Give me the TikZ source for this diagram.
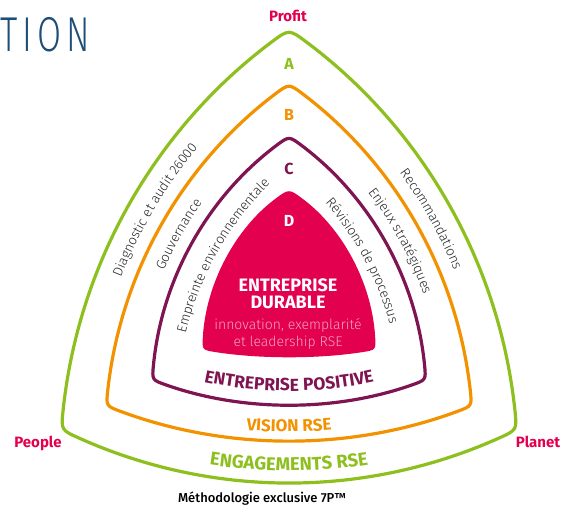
\documentclass[tikz,border=0pt]{standalone}
\usepackage{fontspec}
\setmainfont{Fira Sans}
\newfontfamily\lightfont{Fira Sans Light}
\newfontfamily\mediumfont{Fira Sans Medium}
\usetikzlibrary{calc,decorations.text}

\definecolor{rsegreen}{HTML}{8DBF1E}
\definecolor{rseorange}{HTML}{F39200}
\definecolor{rsepurple}{HTML}{7E1451}
\definecolor{rsered}{HTML}{E2004F}
\definecolor{rseblue}{HTML}{1E4D78}
\definecolor{rsegray}{HTML}{262626}
\definecolor{rsepink}{HTML}{F6A3C0}

\newcommand\sidefont{\lightfont\fontsize{13.5}{13.5}\selectfont\color{rsegray}}

% curved triangle: name, style, apex y, half width, corner y, side bulge, base bulge, top radius, corner radius
\newcommand\curvtri[9]{%
  \coordinate (#1a) at (289,#3);
  \coordinate (#1l) at ({289-#4},#5);
  \coordinate (#1r) at ({289+#4},#5);
  \coordinate (#1c1) at ($(#1a)!0.333!(#1l)!#6pt!-90:(#1l)$);
  \coordinate (#1c2) at ($(#1a)!0.667!(#1l)!#6pt!-90:(#1l)$);
  \coordinate (#1c3) at ($(#1l)!0.333!(#1r)!#7pt!-90:(#1r)$);
  \coordinate (#1c4) at ($(#1l)!0.667!(#1r)!#7pt!-90:(#1r)$);
  \coordinate (#1c5) at ($(#1r)!0.333!(#1a)!#6pt!-90:(#1a)$);
  \coordinate (#1c6) at ($(#1r)!0.667!(#1a)!#6pt!-90:(#1a)$);
  \path[#2] ($(#1a)!#8pt!(#1c1)$) .. controls (#1c1) and (#1c2) .. ($(#1l)!#9pt!(#1c2)$)
    .. controls (#1l) .. ($(#1l)!#9pt!(#1c3)$) .. controls (#1c3) and (#1c4) .. ($(#1r)!#9pt!(#1c4)$)
    .. controls (#1r) .. ($(#1r)!#9pt!(#1c5)$) .. controls (#1c5) and (#1c6) .. ($(#1a)!#8pt!(#1c6)$)
    .. controls (#1a) .. ($(#1a)!#8pt!(#1c1)$) -- cycle;
}
% text going up the left side: corner x, corner y, apex y, bulge, indent, text
\newcommand\upleft[6]{%
  \path[decorate, decoration={text along path, raise=-3.5pt, text align={left indent=#5pt},
      text={|\sidefont|#6}}]
    (#1,#2) .. controls ($(#1,#2)!0.333!(289,#3)!#4pt!90:(289,#3)$)
    and ($(#1,#2)!0.667!(289,#3)!#4pt!90:(289,#3)$) .. (289,#3);}
% text going down the right side: apex y, corner x, corner y, bulge, indent, text
\newcommand\downright[6]{%
  \path[decorate, decoration={text along path, raise=-3.5pt, text align={left indent=#5pt},
      text={|\sidefont|#6}}]
    (289,#1) .. controls ($(289,#1)!0.333!(#2,#3)!#4pt!90:(#2,#3)$)
    and ($(289,#1)!0.667!(#2,#3)!#4pt!90:(#2,#3)$) .. (#2,#3);}
% text along the bottom: left x, right x, y, sag, colour, size, text
\newcommand\basetext[7]{%
  \path[decorate, decoration={text along path, text align=center,
      text={|\bfseries\fontsize{#6}{#6}\selectfont\color{#5}|#7}}]
    (#1,#3) .. controls ($(#1,#3)!0.333!(#2,#3)!#4pt!-90:(#2,#3)$)
    and ($(#1,#3)!0.667!(#2,#3)!#4pt!-90:(#2,#3)$) .. (#2,#3);}

\begin{document}
\begin{tikzpicture}[x=1pt,y=-1pt,
    ring/.style={line width=3.2pt},
    letter/.style={anchor=base, font=\bfseries\fontsize{16}{16}\selectfont},
    pole/.style={anchor=base, text=rsered, font=\bfseries\fontsize{15}{15}\selectfont},
    dtext/.style={anchor=base, text=white, font=\bfseries\fontsize{18}{18}\selectfont},
    dsub/.style={anchor=base, text=rsepink, font=\lightfont\fontsize{14}{14}\selectfont}]
  \useasboundingbox (0,0) rectangle (577,508);

  \node[anchor=base west, inner sep=0, text=rseblue, xscale=0.71,
    font=\lightfont\fontsize{49}{49}\selectfont\addfontfeatures{LetterSpace=15}] (tion) at (0,52) {TION};

  % the four levels
  \curvtri{g}{ring, draw=rsegreen}{29}{228}{430}{67}{68}{22}{20}
  \curvtri{o}{ring, draw=rseorange}{83.5}{183}{406}{53}{45}{18}{16}
  \curvtri{p}{ring, draw=rsepurple}{136}{137}{380}{41}{32}{16}{15}
  \curvtri{d}{fill=rsered}{188.5}{87}{350}{28}{9}{18}{14}

  \node[letter, text=rsegreen] (la) at (289,70) {A};
  \node[letter, text=rseorange] (lb) at (289,121) {B};
  \node[letter, text=rsepurple] (lc) at (289,174) {C};
  \node[letter, text=white] (ld) at (289,226) {D};

  \node[pole] (profit) at (288,22) {Profit};
  \node[pole] (people) at (38,447) {People};
  \node[pole] (planet) at (538,447) {Planet};

  \node[dtext] (ent) at (288,291) {ENTREPRISE};
  \node[dtext] (dur) at (288,308) {DURABLE};
  \node[dsub] (inno) at (288,329) {innovation, exemplarité};
  \node[dsub] (lead) at (288,346) {et leadership RSE};

  % side texts
  \upleft{83.5}{418}{56}{60}{146}{Diagnostic et audit 26000}
  \upleft{129}{393}{109.5}{47}{128}{Gouvernance}
  \upleft{176}{365}{161.5}{29}{33}{Empreinte environnementale}
  \downright{56}{494.5}{418}{60}{162}{Recommandations}
  \downright{109.5}{449}{393}{47}{115}{Enjeux stratégiques}
  \downright{161.5}{402}{365}{29}{55}{Révisions de processus}

  % bottom texts
  \basetext{150}{428}{367}{32}{rsepurple}{17.5}{ENTREPRISE POSITIVE}
  \basetext{150}{428}{413}{25}{rseorange}{17}{VISION RSE}
  \basetext{150}{428}{452}{25}{rsegreen}{18.5}{ENGAGEMENTS RSE}

  \node[anchor=base, font=\mediumfont\fontsize{13}{13}\selectfont] (method) at (262,502) {Méthodologie exclusive 7P™};
\end{tikzpicture}
\end{document}
